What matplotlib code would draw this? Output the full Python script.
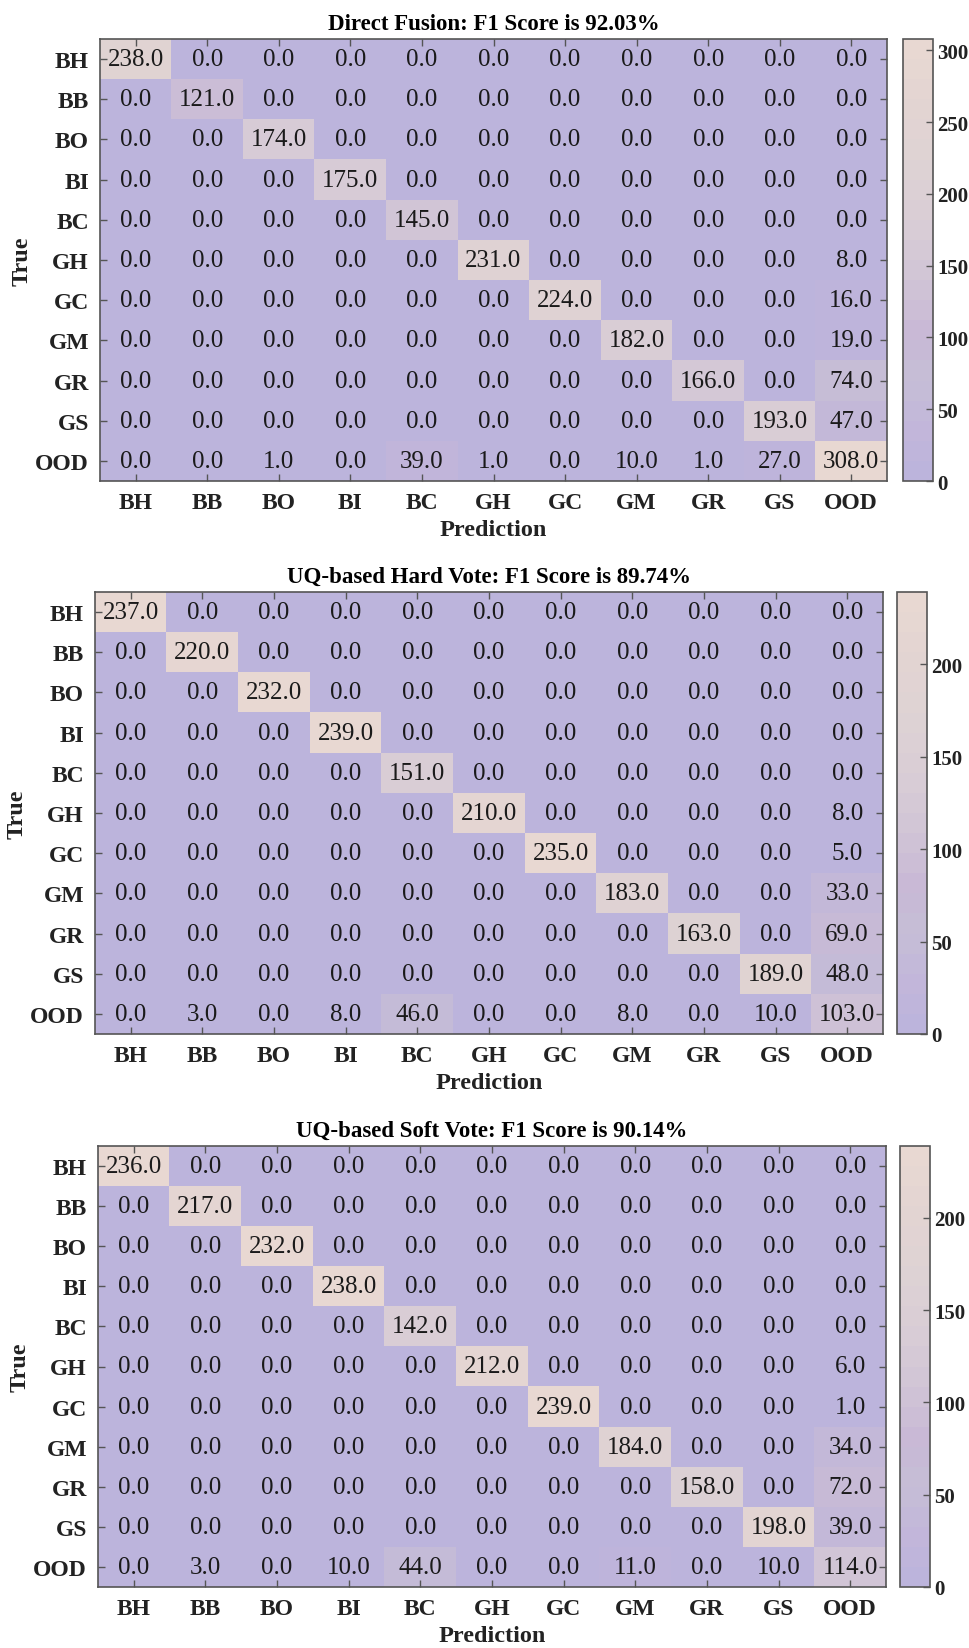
import numpy as np
import matplotlib
matplotlib.use("Agg")
import matplotlib.pyplot as plt
from matplotlib.colors import LinearSegmentedColormap, ListedColormap

plt.rcParams['font.family'] = ['Liberation Serif', 'DejaVu Serif']

classes = ["BH", "BB", "BO", "BI", "BC", "GH", "GC", "GM", "GR", "GS", "OOD"]

# Direct Fusion
df_title = "Direct Fusion: F1 Score is 92.03%"
df_diag = [238, 121, 174, 175, 145, 231, 224, 182, 166, 193]
df_ood_col = [0, 0, 0, 0, 0, 8, 16, 19, 74, 47]
df_ood_row = [0, 0, 1, 0, 39, 1, 0, 10, 1, 27, 308]

# UQ-based hard vote
hv_title = "UQ-based Hard Vote: F1 Score is 89.74%"
hv_diag = [237, 220, 232, 239, 151, 210, 235, 183, 163, 189]
hv_ood_col = [0, 0, 0, 0, 0, 8, 5, 33, 69, 48]
hv_ood_row = [0, 3, 0, 8, 46, 0, 0, 8, 0, 10, 103]

# UQ-based soft vote
sv_title = "UQ-based Soft Vote: F1 Score is 90.14%"
sv_diag = [236, 217, 232, 238, 142, 212, 239, 184, 158, 198]
sv_ood_col = [0, 0, 0, 0, 0, 6, 1, 34, 72, 39]
sv_ood_row = [0, 3, 0, 10, 44, 0, 0, 11, 0, 10, 114]


def build_cm(diag, ood_col, ood_row):
    n = len(classes)
    cm = np.zeros((n, n))
    for i in range(n - 1):
        cm[i, i] = diag[i]
        cm[i, n - 1] = ood_col[i]
    cm[n - 1, :] = ood_row
    return cm


# pale lavender -> beige, banded
stops = [(0.00, "#bcb4dc"), (0.10, "#c2b6da"), (0.22, "#c6bed6"),
         (0.32, "#c8b8d6"), (0.45, "#d0c4d6"), (0.58, "#d8ccd6"),
         (0.70, "#ddd2d4"), (0.85, "#e2d4d2"), (1.00, "#e8d8d2")]
base = LinearSegmentedColormap.from_list("lavbeige", stops)
cmap = ListedColormap(base(np.linspace(0, 1, 22)))

W, H = 969, 1649
fig = plt.figure(figsize=(W / 100, H / 100), dpi=100)

# pixel boxes: (ax left, top, right, bottom), (cbar left, right)
panels = [
    (df_title, build_cm(df_diag, df_ood_col, df_ood_row), (100, 40, 887, 482), (903, 933)),
    (hv_title, build_cm(hv_diag, hv_ood_col, hv_ood_row), (95, 593, 883, 1035), (897, 927)),
    (sv_title, build_cm(sv_diag, sv_ood_col, sv_ood_row), (98, 1147, 886, 1588), (900, 930)),
]

spine_c = "#555555"
txt_c = "#222222"
for title, cm, (l, t, r, b), (cl, cr) in panels:
    ax = fig.add_axes([l / W, 1 - b / H, (r - l) / W, (b - t) / H])
    cax = fig.add_axes([cl / W, 1 - b / H, (cr - cl) / W, (b - t) / H])
    im = ax.imshow(cm, cmap=cmap, vmin=0, vmax=cm.max(), aspect="auto")
    n = len(classes)
    for i in range(n):
        for j in range(n):
            ax.text(j, i, "%.1f" % cm[i, j], ha="center", va="center",
                    fontsize=18, color="#1a1a1a")
    ax.set_xticks(range(n))
    ax.set_yticks(range(n))
    ax.set_xticklabels(classes, fontsize=17, fontweight="bold", color=txt_c)
    ax.set_yticklabels(classes, fontsize=17, fontweight="bold", color=txt_c)
    ax.tick_params(direction="in", top=True, right=True, length=5, width=1,
                   color=spine_c, pad=8)
    ax.set_xlabel("Prediction", fontsize=17.5, fontweight="bold", labelpad=4, color=txt_c)
    ax.set_ylabel("True", fontsize=17.5, fontweight="bold", labelpad=2, color=txt_c)
    ax.set_title(title, fontsize=16.5, fontweight="bold", pad=7)
    for s in ax.spines.values():
        s.set_color(spine_c)
        s.set_linewidth(1.2)

    cb = fig.colorbar(im, cax=cax)
    cb.set_ticks(np.arange(0, cm.max() + 1, 50))
    cax.tick_params(direction="in", length=5, width=1, color=spine_c,
                    labelsize=15, labelcolor=txt_c, pad=3)
    for lab in cax.get_yticklabels():
        lab.set_fontweight("bold")
    cb.outline.set_edgecolor(spine_c)
    cb.outline.set_linewidth(1.2)

fig.savefig("out.png", dpi=100)
